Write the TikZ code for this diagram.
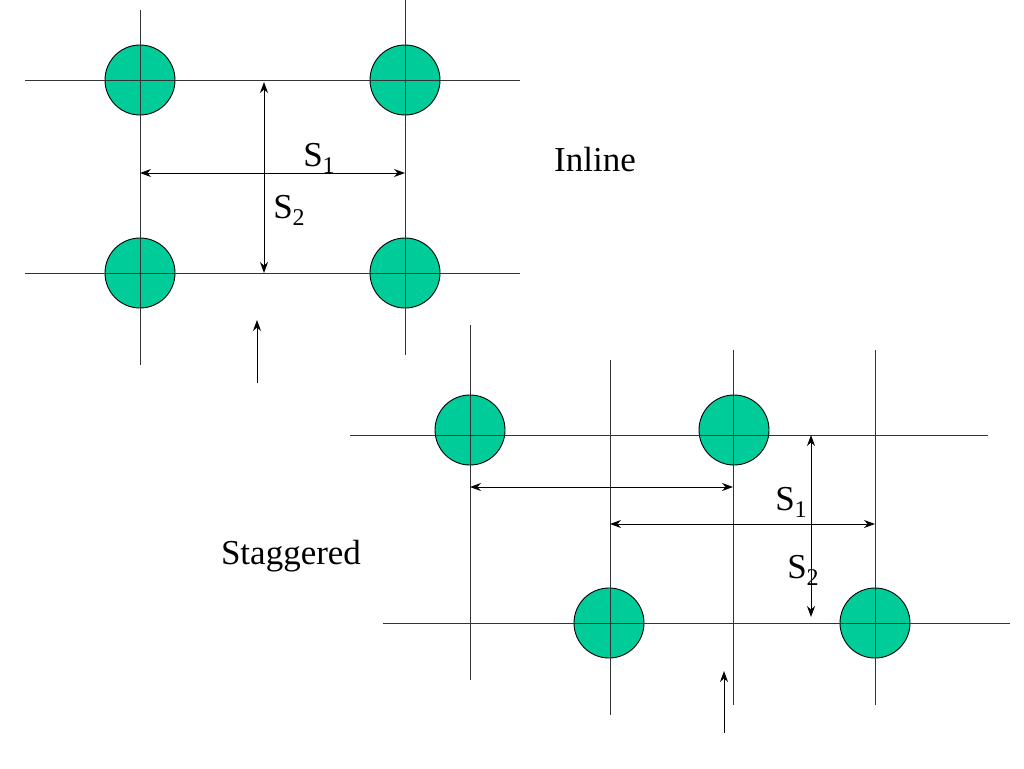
\documentclass[tikz,border=0pt]{standalone}
\usepackage{fontspec}
\setmainfont{Liberation Serif}
\usetikzlibrary{arrows.meta}
\definecolor{tubegreen}{RGB}{0,204,153}
\newcommand{\pitchsub}[1]{\raisebox{-7pt}{\fontsize{24}{24}\selectfont #1}}

\begin{document}
\begin{tikzpicture}[x=1pt,y=-1pt,>={Stealth[length=11pt,width=8pt]},
  tube/.style={circle, fill=tubegreen, draw=black, line width=0.9pt, minimum size=70pt, inner sep=0pt},
  grid/.style={draw=black!80, line width=0.9pt},
  dim/.style={<->, line width=1pt},
  lbl/.style={font=\fontsize{35}{38}\selectfont, inner sep=0pt}]
\useasboundingbox (0,0) rectangle (1024,768);
% inline bank
\node[tube] (A1) at (140,80) {};
\node[tube] (A2) at (405,80) {};
\node[tube] (A3) at (140,273) {};
\node[tube] (A4) at (405,273) {};
\draw[grid] (25,80) -- (520,80);
\draw[grid] (25,273) -- (520,273);
\draw[grid] (140,10) -- (140,365);
\draw[grid] (405,0) -- (405,355);
\coordinate (D1) at (140,173);
\coordinate (D2) at (405,173);
\coordinate (D3) at (264,82);
\coordinate (D4) at (264,273);
\draw[dim] (D1) -- (D2);
\draw[dim] (D3) -- (D4);
\node[lbl] (S1a) at (319,158) {S\pitchsub{1}};
\node[lbl] (S2a) at (289,210) {S\pitchsub{2}};
\node[lbl] (inl) at (595,160) {Inline};
\coordinate (F1) at (257,383);
\coordinate (F2) at (257,320);
\draw[->, line width=1pt] (F1) -- (F2);
% staggered bank
\node[tube] (B1) at (470,430) {};
\node[tube] (B2) at (734,430) {};
\node[tube] (B3) at (609,623) {};
\node[tube] (B4) at (875,623) {};
\draw[grid] (350,435) -- (988,435);
\draw[grid] (383,623) -- (1010,623);
\draw[grid] (470,325) -- (470,680);
\draw[grid] (610,360) -- (610,715);
\draw[grid] (733,350) -- (733,705);
\draw[grid] (875,350) -- (875,705);
\coordinate (E1) at (470,487);
\coordinate (E2) at (733,487);
\coordinate (E3) at (610,524);
\coordinate (E4) at (875,524);
\coordinate (E5) at (811,435);
\coordinate (E6) at (811,617);
\draw[dim] (E1) -- (E2);
\draw[dim] (E3) -- (E4);
\draw[dim] (E5) -- (E6);
\node[lbl] (S1b) at (791,502) {S\pitchsub{1}};
\node[lbl] (S2b) at (803,570) {S\pitchsub{2}};
\node[lbl] (stg) at (291,556) {Staggered};
\coordinate (G1) at (724,733);
\coordinate (G2) at (724,671);
\draw[->, line width=1pt] (G1) -- (G2);
\end{tikzpicture}
\end{document}
